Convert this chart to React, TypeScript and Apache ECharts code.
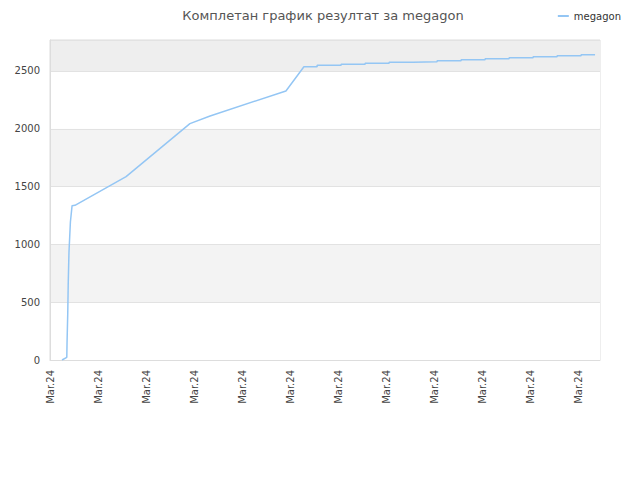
import React, { useEffect, useRef } from "react";
import * as echarts from "echarts";

// x is hours from the start of the axis, y is the cumulative result
const hours = [
  0.5, 0.7, 0.71, 0.74, 0.76, 0.79, 0.85, 0.92, 1.04, 3.17, 5.83, 6.67, 9.83,
  10.58, 11.13, 11.13, 12.13, 12.13, 13.13, 13.13, 14.13, 14.13, 15.13, 15.13,
  16.13, 16.13, 17.13, 17.13, 18.13, 18.13, 19.13, 19.13, 20.13, 20.13, 21.13,
  21.13, 22.13, 22.13, 22.71,
];
const results = [
  0, 23, 150, 409, 669, 928, 1194, 1335, 1338, 1586, 2045, 2111, 2327, 2537,
  2537, 2549, 2549, 2558, 2558, 2566, 2566, 2575, 2575, 2580, 2580, 2589, 2589,
  2597, 2597, 2606, 2606, 2615, 2615, 2624, 2624, 2632, 2632, 2641, 2641,
];
const xTickLabel = "Mar.24";
const seriesName = "megagon";
const chartTitle = "Комплетан график резултат за megagon";

const FONT = "DejaVu Sans";

const App: React.FC = () => {
  const chartRef = useRef<HTMLDivElement>(null);

  useEffect(() => {
    if (!chartRef.current) return;
    const chart = echarts.init(chartRef.current, undefined, { renderer: "svg" });

    const option: echarts.EChartsOption = {
      animation: false,
      backgroundColor: "#ffffff",
      textStyle: { fontFamily: FONT },
      title: {
        text: chartTitle,
        left: 318,
        textAlign: "center",
        top: 4,
        textStyle: {
          fontFamily: FONT,
          fontSize: 13,
          fontWeight: "normal",
          color: "#555555",
        },
      },
      legend: {
        right: 14,
        top: 6,
        icon: "rect",
        itemWidth: 11,
        itemHeight: 2,
        itemGap: 6,
        textStyle: { fontFamily: FONT, fontSize: 10, color: "#333333" },
        data: [seriesName],
      },
      grid: {
        left: 50,
        right: 40,
        top: 40,
        bottom: 120,
        show: true,
        borderColor: "#dddddd",
        borderWidth: 1,
        backgroundColor: "transparent",
      },
      xAxis: {
        type: "value",
        min: 0,
        max: 550 / 24,
        interval: 2,
        axisLine: { show: true, lineStyle: { color: "#dddddd" } },
        axisTick: { show: false },
        splitLine: { show: false },
        axisLabel: {
          rotate: 90,
          showMaxLabel: false,
          fontFamily: FONT,
          fontSize: 10,
          color: "#444444",
          margin: 10,
          formatter: () => xTickLabel,
        },
      },
      yAxis: {
        type: "value",
        min: 0,
        max: 2768,
        interval: 500,
        axisLine: { show: true, lineStyle: { color: "#dddddd" } },
        axisTick: { show: false },
        axisLabel: {
          showMaxLabel: false,
          fontFamily: FONT,
          fontSize: 10,
          color: "#444444",
          margin: 10,
          formatter: (v: number) => String(v),
        },
        splitLine: { show: true, lineStyle: { color: "#e2e2e2" } },
        splitArea: {
          show: true,
          areaStyle: {
            color: ["#ffffff", "#f3f3f3", "#ffffff", "#f3f3f3", "#ffffff", "#eeeeee"],
          },
        },
      },
      series: [
        {
          name: seriesName,
          type: "line",
          symbol: "none",
          data: hours.map((h, i) => [h, results[i]]),
          lineStyle: { color: "#94c6f4", width: 1.5 },
          itemStyle: { color: "#94c6f4" },
        },
      ],
    };

    chart.setOption(option);
    return () => chart.dispose();
  }, []);

  return <div ref={chartRef} style={{ width: 640, height: 480, margin: -8 }} />;
};

export default App;
